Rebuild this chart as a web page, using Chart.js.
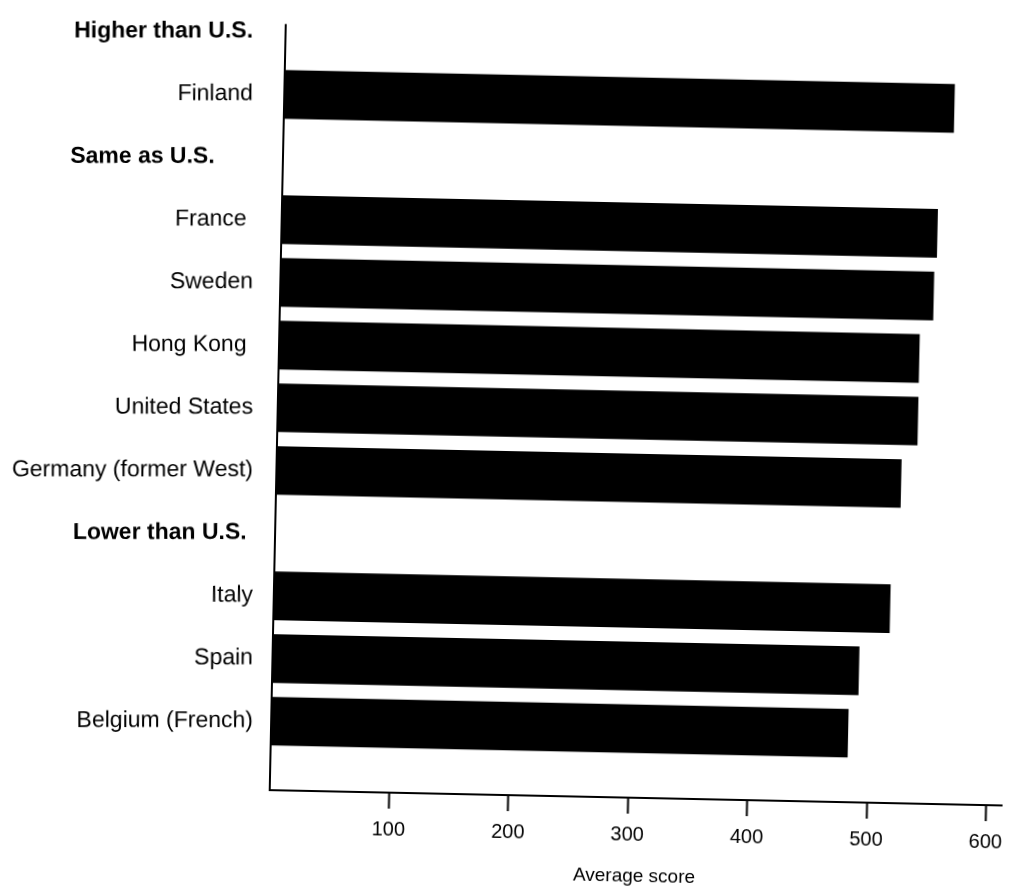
<!DOCTYPE html>
<html>
<head>
<meta charset="utf-8">
<script src="https://cdn.jsdelivr.net/npm/chart.js@4.4.1/dist/chart.umd.min.js"></script>
<style>
  html, body { margin: 0; padding: 0; background: #fff; overflow: hidden; }
  /* the scanned original sits a little crooked on the page */
  #chart { display: block; transform: rotate(1.2deg); transform-origin: 506px 445px; }
</style>
</head>
<body>
<canvas id="chart" width="1013" height="891"></canvas>
<script>
// rows from top to bottom, group headers included (they get no bar)
const rowLabels = [
  'Higher than U.S.',
  'Finland',
  'Same as U.S.      ',
  'France ',
  'Sweden',
  'Hong Kong ',
  'United States',
  'Germany (former West)',
  'Lower than U.S. ',
  'Italy',
  'Spain',
  'Belgium (French)'
];
const headerRows = [0, 2, 8];
const scores = [null, 561, null, 549, 547, 536, 536, 523, null, 516, 491, 483];
const xTicks = [100, 200, 300, 400, 500, 600];
const xTitle = 'Average score';

const FONT = '"Liberation Sans", Arial, Helvetica, sans-serif';
// must match the css rotate above
const ANGLE = 1.2 * Math.PI / 180;
const CX = 506;
const CY = 445;

const points = scores
  .map((v, i) => ({ x: v, y: i }))
  .filter(p => p.x !== null);

const whiteBg = {
  id: 'whiteBg',
  beforeDraw(chart) {
    const c = chart.ctx;
    c.save();
    c.fillStyle = '#fff';
    c.fillRect(0, 0, chart.width, chart.height);
    c.restore();
  }
};

// y axis line starts just above the first header, not at the top of the plot
const yLine = {
  id: 'yLine',
  afterDraw(chart) {
    const y = chart.scales.y;
    const area = chart.chartArea;
    const c = chart.ctx;
    c.save();
    c.strokeStyle = '#000';
    c.lineWidth = 2;
    c.beginPath();
    c.moveTo(area.left, y.getPixelForValue(-0.12));
    c.lineTo(area.left, area.bottom);
    c.stroke();
    c.restore();
  }
};

// in the scan only the plot is crooked, the row labels stand upright,
// so they are drawn here with the page rotation undone
const rowLabelText = {
  id: 'rowLabelText',
  afterDraw(chart) {
    const y = chart.scales.y;
    const c = chart.ctx;
    const right = chart.chartArea.left - 24;
    c.save();
    c.translate(CX, CY);
    c.rotate(-ANGLE);
    c.translate(-CX, -CY);
    c.fillStyle = '#000';
    c.textAlign = 'right';
    c.textBaseline = 'middle';
    rowLabels.forEach((label, i) => {
      const py = y.getPixelForValue(i);
      const sy = CY + (right - CX) * Math.sin(ANGLE) + (py - CY) * Math.cos(ANGLE);
      c.font = (headerRows.includes(i) ? 'bold ' : '') + '23px ' + FONT;
      c.fillText(label, right, sy);
    });
    c.restore();
  }
};

new Chart(document.getElementById('chart'), {
  type: 'bar',
  data: {
    datasets: [{
      data: points,
      backgroundColor: '#000',
      borderWidth: 0,
      barThickness: 48
    }]
  },
  options: {
    indexAxis: 'y',
    responsive: false,
    animation: false,
    layout: { padding: { top: 5, right: 4, bottom: 0, left: 0 } },
    plugins: {
      legend: { display: false },
      tooltip: { enabled: false }
    },
    scales: {
      x: {
        type: 'linear',
        min: 0,
        max: 613,
        afterBuildTicks(scale) {
          scale.ticks = xTicks.map(v => ({ value: v }));
        },
        afterFit(scale) {
          scale.height = 96;
          scale.paddingLeft = 0;
          scale.paddingRight = 0;
        },
        grid: {
          display: true,
          drawOnChartArea: false,
          drawTicks: true,
          tickLength: 16,
          tickWidth: 2,
          tickColor: '#000'
        },
        border: { display: true, color: '#000', width: 2 },
        ticks: {
          color: '#000',
          font: { family: FONT, size: 20 },
          padding: 9,
          maxRotation: 0
        },
        title: {
          display: true,
          text: xTitle,
          color: '#000',
          font: { family: FONT, size: 19 },
          padding: { top: 4, bottom: 6 }
        }
      },
      y: {
        type: 'linear',
        reverse: true,
        offset: false,
        min: -0.5,
        max: 12.1,
        afterBuildTicks(scale) {
          scale.ticks = rowLabels.map((_, i) => ({ value: i }));
        },
        afterFit(scale) {
          scale.width = 277;
          scale.paddingTop = 0;
          scale.paddingBottom = 0;
        },
        grid: { display: false },
        border: { display: false },
        ticks: { display: false }
      }
    }
  },
  plugins: [whiteBg, yLine, rowLabelText]
});
</script>
</body>
</html>
